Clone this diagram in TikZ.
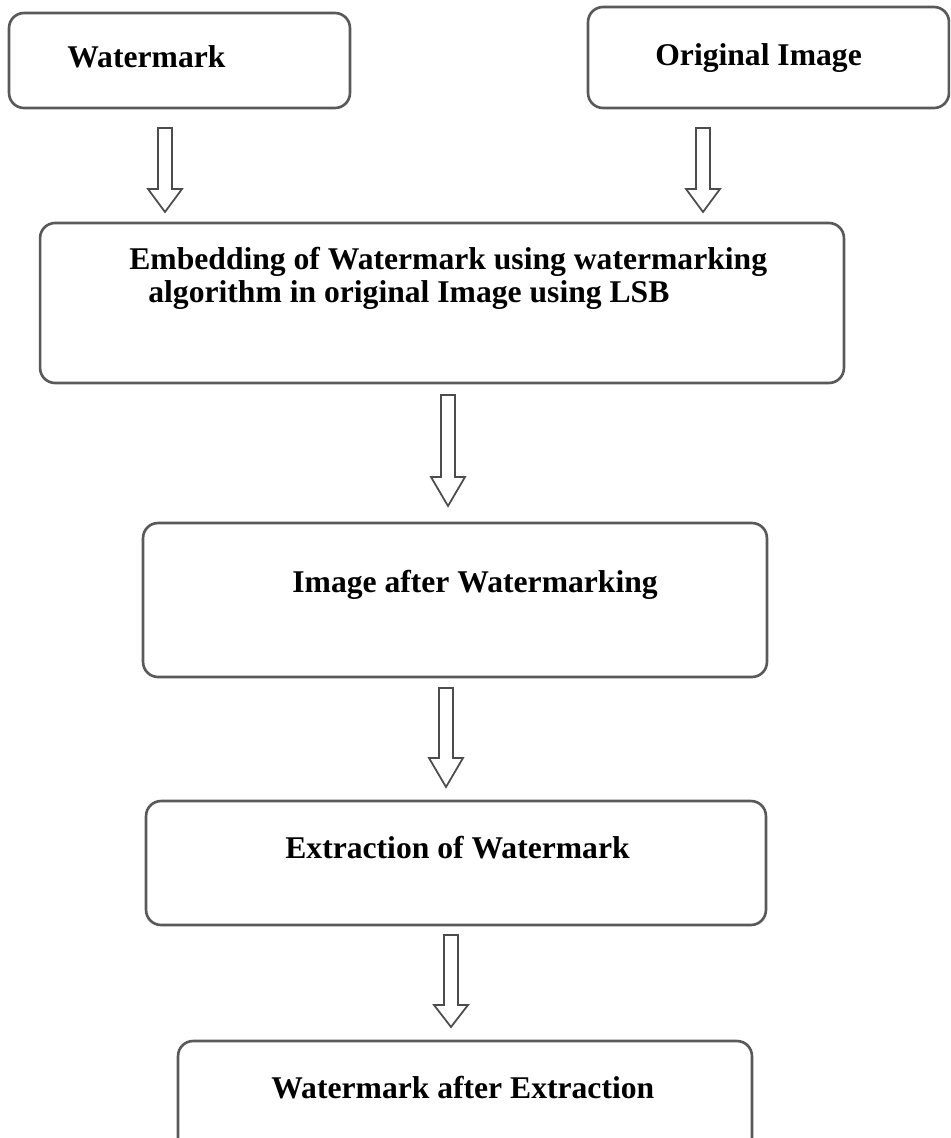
\documentclass[tikz,border=0pt]{standalone}
\usepackage{fontspec}
\setmainfont{Liberation Serif}

\tikzset{
  box/.style={draw=black!65, line width=1.5pt, rounded corners=0.3cm, inner sep=0pt},
  lbl/.style={font=\fontsize{18}{20}\selectfont\bfseries, anchor=base west, inner sep=0pt},
  arrowline/.style={draw=black!70, line width=1pt, fill=white},
  pics/downarrow/.style 2 args={code={
      \draw[arrowline] (-7,0) -- (-7,#2) -- (-17,#2) -- (0,#1) -- (17,#2) -- (7,#2) -- (7,0) -- cycle;
  }}
}

\begin{document}
\begin{tikzpicture}[x=0.02cm, y=-0.02cm]
  \useasboundingbox (0,0) rectangle (950,1138);
  \clip (0,0) rectangle (950,1138);

  % inputs
  \node[box, minimum width=6.82cm, minimum height=1.9cm] (wm) at (179.5,60.5) {};
  \node[box, minimum width=7.22cm, minimum height=2.02cm] (orig) at (768.5,57.5) {};
  \node[lbl] (wmtxt) at (67,68) {Watermark};
  \node[lbl] (origtxt) at (655,66) {Original Image};

  % embedding
  \node[box, minimum width=16.08cm, minimum height=3.2cm] (emb) at (442,303) {};
  \node[lbl] (embtxt) at (129,270) {Embedding of Watermark using watermarking};
  \node[lbl] (embtxtb) at (148,302) {algorithm in original Image using LSB};

  % watermarked image
  \node[box, minimum width=12.48cm, minimum height=3.08cm] (img) at (455,600) {};
  \node[lbl] (imgtxt) at (292,592) {Image after Watermarking};

  % extraction
  \node[box, minimum width=12.4cm, minimum height=2.48cm] (ext) at (456,863) {};
  \node[lbl] (exttxt) at (285,858) {Extraction of Watermark};

  \node[box, minimum width=11.48cm, minimum height=3cm] (wmx) at (465,1116) {};
  \node[lbl] (wmxtxt) at (271,1098) {Watermark after Extraction};

  % block arrows
  \coordinate (a1) at (165,128);
  \coordinate (a2) at (703,128);
  \coordinate (a3) at (448,395);
  \coordinate (a4) at (446,688);
  \coordinate (a5) at (451,935);
  \pic at (a1) {downarrow={84}{61}};
  \pic at (a2) {downarrow={84}{61}};
  \pic at (a3) {downarrow={111}{82}};
  \pic at (a4) {downarrow={99}{70}};
  \pic at (a5) {downarrow={92}{70}};
\end{tikzpicture}
\end{document}
